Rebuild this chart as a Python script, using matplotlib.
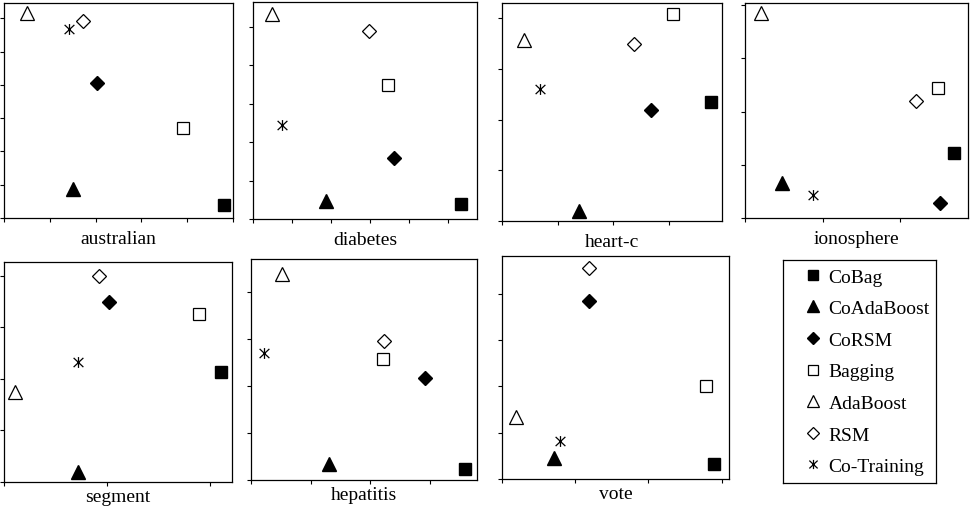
import matplotlib
matplotlib.use("Agg")
import matplotlib.pyplot as plt
from matplotlib.path import Path

plt.rcParams['font.family'] = ['Liberation Serif', 'DejaVu Serif']

methods = ['CoBag', 'CoAdaBoost', 'CoRSM', 'Bagging', 'AdaBoost', 'RSM', 'Co-Training']
datasets = ['australian', 'diabetes', 'heart-c', 'ionosphere', 'segment', 'hepatitis', 'vote']

# point positions per dataset (in tick units), method order as above
australian_x = [4.80, 1.51, 2.02, 3.91, 0.51, 1.73, 1.42]
australian_y = [0.40, 0.88, 4.06, 2.71, 6.16, 5.93, 5.68]
diabetes_x = [5.34, 1.87, 3.61, 3.47, 0.49, 2.98, 0.74]
diabetes_y = [0.39, 0.48, 1.58, 3.48, 5.35, 4.89, 2.45]
heartc_x = [3.77, 1.39, 2.69, 3.08, 0.39, 2.37, 0.675]
heartc_y = [2.34, 0.20, 2.19, 4.08, 3.57, 3.49, 2.60]
ionosphere_x = [2.69, 0.48, 2.505, 2.49, 0.21, 2.20, 0.88]
ionosphere_y = [1.225, 0.66, 0.29, 2.44, 3.85, 2.19, 0.425]
segment_x = [2.10, 0.72, 1.02, 1.89, 0.107, 0.925, 0.72]
segment_y = [2.14, 0.19, 3.50, 3.26, 1.75, 3.99, 2.32]
hepatitis_x = [3.59, 1.30, 2.92, 2.22, 0.525, 2.23, 0.22]
hepatitis_y = [0.24, 0.33, 2.16, 2.57, 4.375, 2.96, 2.69]
vote_x = [2.895, 0.705, 1.19, 2.79, 0.195, 1.19, 0.786]
vote_y = [0.32, 0.45, 3.85, 2.0, 1.345, 4.55, 0.83]

xs = [australian_x, diabetes_x, heartc_x, ionosphere_x, segment_x, hepatitis_x, vote_x]
ys = [australian_y, diabetes_y, heartc_y, ionosphere_y, segment_y, hepatitis_y, vote_y]

# axis extents (xmax, ymax) and panel boxes in pixels (left, top, right, bottom)
limits = [(5.0, 6.46), (5.74, 5.65), (3.96, 4.30), (2.87, 4.04),
          (2.21, 4.27), (3.79, 4.69), (3.10, 4.81)]
boxes = [(4, 4, 233, 219), (253, 3, 477, 220), (502, 4, 722, 222), (745, 4, 968, 219),
         (4, 263, 232, 483), (251, 260, 477, 481), (502, 257, 729, 480)]
legend_box = (783, 261, 936, 484)

# asterisk: an X with a vertical bar
star = Path([(0, -1), (0, 1), (-0.9, -0.85), (0.9, 0.85), (-0.9, 0.85), (0.9, -0.85)],
            [Path.MOVETO, Path.LINETO] * 3)

styles = {
    'CoBag': dict(marker='s', ms=8.6, mfc='black', mec='black'),
    'CoAdaBoost': dict(marker='^', ms=9.6, mfc='black', mec='black'),
    'CoRSM': dict(marker='D', ms=7.2, mfc='black', mec='black'),
    'Bagging': dict(marker='s', ms=8.2, mfc='white', mec='black', mew=0.9),
    'AdaBoost': dict(marker='^', ms=9.6, mfc='white', mec='black', mew=0.9),
    'RSM': dict(marker='D', ms=7.0, mfc='white', mec='black', mew=0.9),
    'Co-Training': dict(marker=star, ms=7.8, mfc='none', mec='black', mew=0.9),
}

W, H = 975, 510
fig = plt.figure(figsize=(W / 100, H / 100), dpi=100)


def frac(l, t, r, b):
    return [l / W, 1 - b / H, (r - l) / W, (b - t) / H]


handles = []
for i, name in enumerate(datasets):
    ax = fig.add_axes(frac(*boxes[i]))
    for j, m in enumerate(methods):
        h, = ax.plot(xs[i][j], ys[i][j], ls='none', clip_on=False, zorder=3, **styles[m])
        if i == 0:
            handles.append(h)
    xmax, ymax = limits[i]
    ax.set_xlim(0, xmax)
    ax.set_ylim(0, ymax)
    ax.set_xticks(range(int(xmax) + 1))
    ax.set_yticks(range(int(ymax) + 1))
    ax.set_xticklabels([])
    ax.set_yticklabels([])
    ax.tick_params(direction='out', length=3, width=0.8, top=False, right=False)
    for s in ax.spines.values():
        s.set_linewidth(0.9)
    ax.set_xlabel(name, fontsize=14, labelpad=2 if i < 4 else -2.5)

# legend box
lax = fig.add_axes(frac(*legend_box))
lax.set_xticks([])
lax.set_yticks([])
for s in lax.spines.values():
    s.set_linewidth(0.9)
lax.legend(handles, methods, loc='upper left', bbox_to_anchor=(803 / W, 1 - 269 / H),
           bbox_transform=fig.transFigure, frameon=False, borderaxespad=0, borderpad=0,
           handlelength=1.0, handletextpad=0.32, labelspacing=0.72, markerscale=0.85,
           prop={'size': 14})

fig.savefig('out.png', dpi=100)
